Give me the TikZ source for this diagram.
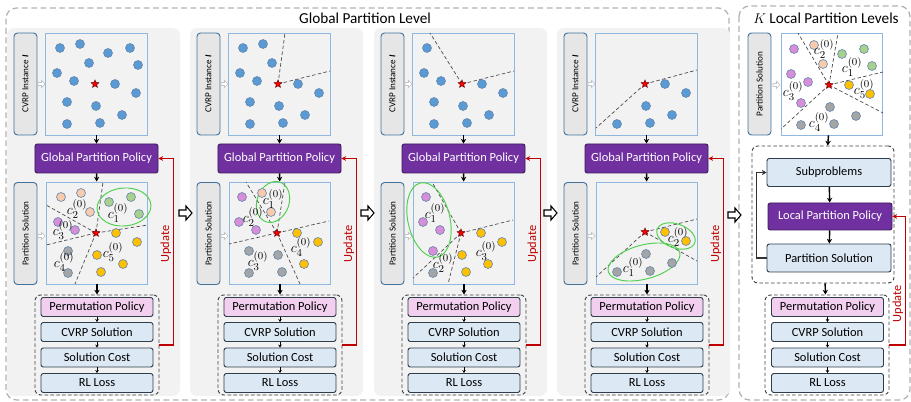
\documentclass[tikz,border=0pt]{standalone}
\usepackage{fontspec}
\setmainfont{Carlito}
\usetikzlibrary{shapes.geometric,arrows.meta}

\definecolor{panelgray}{HTML}{F2F2F2}
\definecolor{tagfill}{HTML}{E7E6E6}
\definecolor{tagline}{HTML}{41719C}
\definecolor{plotline}{HTML}{8FB8E0}
\definecolor{gppfill}{HTML}{7030A0}
\definecolor{gppline}{HTML}{3C1A5B}
\definecolor{permfill}{HTML}{F2CEEF}
\definecolor{stagefill}{HTML}{DCE9F5}
\definecolor{stageline}{HTML}{2F3E4C}
\definecolor{updred}{HTML}{C00000}
\definecolor{dotline}{HTML}{5A7FA8}
\definecolor{nblue}{HTML}{5B9BD5}
\definecolor{npeach}{HTML}{F8CBAD}
\definecolor{ngreen}{HTML}{A9D18E}
\definecolor{npink}{HTML}{D98ED9}
\definecolor{nyellow}{HTML}{FFC000}
\definecolor{ngray}{HTML}{A5A5A5}
\definecolor{ringgreen}{HTML}{4CD04C}

\tikzset{
  levelframe/.style={draw=gray!60, line width=1.1pt, dash pattern=on 5pt off 3pt, rounded corners=9pt},
  title/.style={font=\fontsize{13}{15}\selectfont, inner sep=1pt},
  tag/.style={draw=tagline, fill=tagfill, line width=0.8pt, rounded corners=3pt, rotate=90,
    minimum width=3.06cm, minimum height=0.69cm, inner sep=0pt, font=\fontsize{7.8}{9}\selectfont},
  scatterbox/.style={draw=plotline, line width=0.8pt, minimum width=3.05cm, minimum height=3.06cm, inner sep=0pt},
  gpp/.style={draw=gppline, fill=gppfill, text=white, line width=0.8pt, rounded corners=2pt,
    minimum width=3.69cm, minimum height=0.87cm, font=\fontsize{10.6}{12}\selectfont},
  stackframe/.style={draw=black!75, line width=0.8pt, dash pattern=on 3pt off 2pt, rounded corners=5pt},
  stagebox/.style={draw=stageline, fill=stagefill, line width=0.8pt, rounded corners=2pt,
    minimum width=3.36cm, minimum height=0.57cm, inner sep=0pt, font=\fontsize{10.6}{12}\selectfont},
  permbox/.style={stagebox, fill=permfill},
  flow/.style={-{Stealth[length=4pt,width=4.5pt]}, line width=1.2pt},
  minor/.style={-{Stealth[length=2.5pt,width=3pt]}, line width=0.6pt},
  upd/.style={draw=updred, -{Stealth[length=4pt,width=4pt]}, line width=1.1pt},
  updtext/.style={rotate=90, anchor=south, text=updred, font=\fontsize{10.6}{12}\selectfont, inner sep=1.5pt},
  hollow/.style={draw=black, fill=white, line width=0.9pt, line join=miter},
  ghost/.style={draw=gray!45, fill=white, line width=0.6pt},
  nodedot/.style={draw=dotline, line width=0.5pt},
  depot/.style={star, star points=5, star point ratio=2.3, fill=red, draw=black!60!red, line width=0.4pt,
    minimum size=7pt, inner sep=0pt},
  clusterring/.style={draw=ringgreen, line width=0.8pt},
  borderline/.style={draw=black!70, line width=0.6pt, dash pattern=on 3pt off 2pt},
  clab/.style={inner sep=0pt, font=\fontsize{12.5}{14}\selectfont},
}

\begin{document}
\begin{tikzpicture}[x=0.03cm, y=-0.03cm]
  \useasboundingbox (0,0) rectangle (911,402);

  % level frames
  \draw[levelframe] (6,8) rectangle (729,400);
  \draw[levelframe] (739,6) rectangle (910,400);
  \node[title] (gtitle) at (365,18) {Global Partition Level};
  \node[title] (ltitle) at (826,18) {$K$ Local Partition Levels};

  % global rounds
  \foreach \i/\dx in {1/0,2/183,3/367,4/550}{
    \fill[panelgray, rounded corners=6pt] (7+\dx,28) rectangle (180+\dx,396);
    \node[tag] (itag\i) at (25.5+\dx,84) {CVRP Instance \textbf{\textit{I}}};
    \node[scatterbox] (inst\i) at (96.5+\dx,84) {};
    \node[gpp] (gpp\i) at (96.5+\dx,158.5) {Global Partition Policy};
    \node[tag] (ptag\i) at (25.5+\dx,233.5) {Partition Solution};
    \node[scatterbox] (part\i) at (97+\dx,233) {};
    \node[stackframe, minimum width=3.72cm, minimum height=3cm] (stack\i) at (97+\dx,345) {};
    \node[permbox] (perm\i) at (97+\dx,307) {Permutation Policy};
    \node[stagebox] (sol\i) at (97+\dx,332) {CVRP Solution};
    \node[stagebox] (cost\i) at (97+\dx,357.5) {Solution Cost};
    \node[stagebox] (loss\i) at (97+\dx,383) {RL Loss};
    \draw[flow] (inst\i) -- (gpp\i);
    \draw[flow] (gpp\i) -- (part\i);
    \draw[flow] (part\i) -- (stack\i);
    \draw[minor] (perm\i) -- (sol\i);
    \draw[minor] (sol\i) -- (cost\i);
    \draw[minor] (cost\i) -- (loss\i);
    \draw[upd] (stack\i.east) -- ++(14,0) |- node[pos=0.27, updtext] {Update} (gpp\i.east);
    \foreach \gy in {84,236}
      \draw[ghost] (38+\dx,\gy-1.5) -- (41.5+\dx,\gy-1.5) -- (41.5+\dx,\gy-3.5) -- (45+\dx,\gy)
        -- (41.5+\dx,\gy+3.5) -- (41.5+\dx,\gy+1.5) -- (38+\dx,\gy+1.5) -- cycle;
  }

  % round 1
  \begin{scope}[shift={(95,84)}]
    \foreach \px/\py in {-35/-36,-15/-40,13/-31,35/-36,-6/-21,43/-19,-38/-11,-21/-3,20/0,41/9,-28/18,1/22,27/31,-28/40,5/39}
      \draw[nodedot, fill=nblue] (\px,\py) circle (3.8pt);
    \node[depot] (d1a) at (0,0) {};
  \end{scope}
  \begin{scope}[shift={(96,233)}]
    \coordinate (o1b) at (0,0);
    \foreach \ex/\ey in {7/-51,-50/-28,-50/12,-21/51,52/-8}
      \draw[borderline] (o1b) -- (\ex,\ey);
    \draw[clusterring, rotate around={5:(28,-26)}] (28,-26) ellipse (0.81cm and 0.57cm);
    \foreach \px/\py/\c in {-35/-36/npeach,-15/-40/npeach,-6/-21/npeach,13/-31/ngreen,35/-36/ngreen,43/-19/ngreen,
        -38/-11/npink,-21/-3/npink,20/0/nyellow,41/9/nyellow,1/22/nyellow,27/31/nyellow,5/39/nyellow,-28/18/ngray,-28/40/ngray}
      \draw[nodedot, fill=\c] (\px,\py) circle (3.8pt);
    \node[depot] (d1b) at (o1b) {};
    \node[clab] (r1c1) at (22,-20) {$c_1^{(0)}$};
    \node[clab] (r1c2) at (-19,-24) {$c_2^{(0)}$};
    \node[clab] (r1c3) at (-33,-3) {$c_3^{(0)}$};
    \node[clab] (r1c4) at (-32,29) {$c_4^{(0)}$};
    \node[clab] (r1c5) at (17,19) {$c_5^{(0)}$};
  \end{scope}

  % round 2
  \begin{scope}[shift={(278,84)}]
    \coordinate (o2a) at (0,0);
    \foreach \ex/\ey in {7/-51,52/-13}
      \draw[borderline] (o2a) -- (\ex,\ey);
    \foreach \px/\py in {-35/-36,-15/-40,-6/-21,-38/-11,-21/-3,20/0,41/9,-28/18,1/22,27/31,-28/40,5/39}
      \draw[nodedot, fill=nblue] (\px,\py) circle (3.8pt);
    \node[depot] (d2a) at (o2a) {};
  \end{scope}
  \begin{scope}[shift={(277,233)}]
    \coordinate (o2b) at (0,0);
    \foreach \ex/\ey in {-31/-51,8/-51,52/-12,-48/11,23/51}
      \draw[borderline] (o2b) -- (\ex,\ey);
    \draw[clusterring, rotate around={-20:(-4,-31)}] (-4,-31) ellipse (0.48cm and 0.63cm);
    \foreach \px/\py/\c in {-15/-40/npeach,-6/-21/npeach,-35/-36/npink,-38/-11/npink,-21/-3/npink,
        20/0/nyellow,41/9/nyellow,27/31/nyellow,-28/18/ngray,1/22/ngray,-28/40/ngray,5/39/ngray}
      \draw[nodedot, fill=\c] (\px,\py) circle (3.8pt);
    \node[depot] (d2b) at (o2b) {};
    \node[clab] (r2c1) at (-4,-34) {$c_1^{(0)}$};
    \node[clab] (r2c2) at (-24,-16) {$c_2^{(0)}$};
    \node[clab] (r2c3) at (-19,28) {$c_3^{(0)}$};
    \node[clab] (r2c4) at (24,14) {$c_4^{(0)}$};
  \end{scope}

  % round 3
  \begin{scope}[shift={(462,84)}]
    \coordinate (o3a) at (0,0);
    \foreach \ex/\ey in {-32/-51,52/-13}
      \draw[borderline] (o3a) -- (\ex,\ey);
    \foreach \px/\py in {-35/-36,-38/-11,-21/-3,20/0,41/9,-28/18,1/22,27/31,-28/40,5/39}
      \draw[nodedot, fill=nblue] (\px,\py) circle (3.8pt);
    \node[depot] (d3a) at (o3a) {};
  \end{scope}
  \begin{scope}[shift={(461,233)}]
    \coordinate (o3b) at (0,0);
    \foreach \ex/\ey in {-29/-51,52/-13,-48/45,-13/51}
      \draw[borderline] (o3b) -- (\ex,\ey);
    \draw[clusterring, rotate around={13:(-32,-13)}] (-32,-13) ellipse (0.63cm and 1.14cm);
    \foreach \px/\py/\c in {-35/-36/npink,-38/-11/npink,-21/-3/npink,-28/18/npink,-28/40/ngray,
        20/0/nyellow,41/9/nyellow,1/22/nyellow,27/31/nyellow,5/39/nyellow}
      \draw[nodedot, fill=\c] (\px,\py) circle (3.8pt);
    \node[depot] (d3b) at (o3b) {};
    \node[clab] (r3c1) at (-26,-20) {$c_1^{(0)}$};
    \node[clab] (r3c2) at (-18,30) {$c_2^{(0)}$};
    \node[clab] (r3c3) at (25,18) {$c_3^{(0)}$};
  \end{scope}

  % round 4
  \begin{scope}[shift={(645,84)}]
    \coordinate (o4a) at (0,0);
    \foreach \ex/\ey in {52/-14,-49/44}
      \draw[borderline] (o4a) -- (\ex,\ey);
    \foreach \px/\py in {20/0,41/9,1/22,27/31,-28/40,5/39}
      \draw[nodedot, fill=nblue] (\px,\py) circle (3.8pt);
    \node[depot] (d4a) at (o4a) {};
  \end{scope}
  \begin{scope}[shift={(645,232)}]
    \coordinate (o4b) at (0,0);
    \foreach \ex/\ey in {52/-13,52/29,-49/45}
      \draw[borderline] (o4b) -- (\ex,\ey);
    \draw[clusterring, rotate around={-20:(31,4)}] (31,4) ellipse (0.6cm and 0.36cm);
    \draw[clusterring, rotate around={15:(-1,30)}] (-1,30) ellipse (1.11cm and 0.51cm);
    \foreach \px/\py/\c in {20/0/nyellow,41/9/nyellow,1/22/ngray,27/31/ngray,-28/40/ngray,5/39/ngray}
      \draw[nodedot, fill=\c] (\px,\py) circle (3.8pt);
    \node[depot] (d4b) at (o4b) {};
    \node[clab] (r4c1) at (-12,35) {$c_1^{(0)}$};
    \node[clab] (r4c2) at (33,5) {$c_2^{(0)}$};
  \end{scope}

  % hand-over arrows
  \foreach \ax/\ay in {185/213,367/213,550/213,734/215}
    \draw[hollow] (\ax-6,\ay-3) -- (\ax+1,\ay-3) -- (\ax+1,\ay-7) -- (\ax+7,\ay)
      -- (\ax+1,\ay+7) -- (\ax+1,\ay+3) -- (\ax-6,\ay+3) -- cycle;

  % local levels
  \node[tag] (ltag) at (759.5,84) {Partition Solution};
  \node[scatterbox, fill=white] (lplot) at (832,84) {};
  \draw[ghost] (773,83.5) -- (776.5,83.5) -- (776.5,81.5) -- (780,85) -- (776.5,88.5) -- (776.5,86.5) -- (773,86.5) -- cycle;
  \begin{scope}[shift={(829,85)}]
    \coordinate (ol) at (0,0);
    \foreach \ex/\ey in {-31/-52,9/-52,54/-13,54/28,-48/44}
      \draw[borderline] (ol) -- (\ex,\ey);
    \foreach \px/\py/\c in {-35/-36/npink,-38/-11/npink,-21/-3/npink,-28/18/npink,-15/-40/npeach,-6/-21/npeach,
        13/-31/ngreen,35/-36/ngreen,43/-19/ngreen,20/0/nyellow,41/9/nyellow,1/22/ngray,27/31/ngray,-28/40/ngray,5/39/ngray}
      \draw[nodedot, fill=\c] (\px,\py) circle (3.8pt);
    \node[depot] (dl) at (ol) {};
    \node[clab] (lc1) at (23,-18) {$c_1^{(0)}$};
    \node[clab] (lc2) at (-5,-36) {$c_2^{(0)}$};
    \node[clab] (lc3) at (-36,6) {$c_3^{(0)}$};
    \node[clab] (lc4) at (-10,37) {$c_4^{(0)}$};
    \node[clab] (lc5) at (35,4) {$c_5^{(0)}$};
  \end{scope}

  \node[stackframe, minimum width=4.26cm, minimum height=4.11cm] (inner) at (823,214.5) {};
  \node[stagebox, minimum width=3.72cm, minimum height=0.84cm] (sub) at (829,172.5) {Subproblems};
  \node[gpp, minimum width=3.72cm, minimum height=0.81cm] (lpp) at (830,216.5) {Local Partition Policy};
  \node[stagebox, minimum width=3.72cm, minimum height=0.84cm] (lps) at (829,258) {Partition Solution};
  \draw[flow] (lplot) -- (inner);
  \draw[flow] (sub) -- (lpp);
  \draw[flow] (lpp) -- (lps);
  \draw[flow, draw=black!80] (lps.west) -- ++(-10,0) |- (sub.west);

  \node[stackframe, minimum width=3.72cm, minimum height=3cm] (lstack) at (827,345) {};
  \node[permbox] (lperm) at (827.5,307) {Permutation Policy};
  \node[stagebox] (lsol) at (827.5,332) {CVRP Solution};
  \node[stagebox] (lcost) at (827.5,357.5) {Solution Cost};
  \node[stagebox] (lloss) at (827.5,383) {RL Loss};
  \draw[flow] (inner) -- (lstack);
  \draw[minor] (lperm) -- (lsol);
  \draw[minor] (lsol) -- (lcost);
  \draw[minor] (lcost) -- (lloss);
  \draw[upd] (lstack.east) -- ++(16,0) |- node[pos=0.16, updtext] {Update} (lpp.east);
\end{tikzpicture}
\end{document}
